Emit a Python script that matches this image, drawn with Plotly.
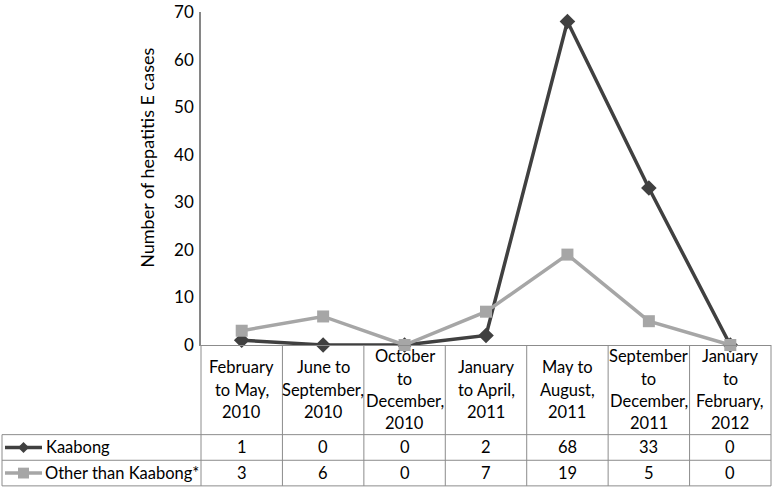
import plotly.graph_objects as go

# ---- data ----
categories = [
    "February<br>to May,<br>2010",
    "June to<br>September,<br>2010",
    "October<br>to<br>December,<br>2010",
    "January<br>to April,<br>2011",
    "May to<br>August,<br>2011",
    "September<br>to<br>December,<br>2011",
    "January<br>to<br>February,<br>2012",
]
kaabong = [1, 0, 0, 2, 68, 33, 0]
other = [3, 6, 0, 7, 19, 5, 0]
series_names = ["Kaabong", "Other than Kaabong*"]
y_ticks = [0, 10, 20, 30, 40, 50, 60, 70]
y_title = "Number of hepatitis E cases"

# ---- layout geometry ----
W, H = 772, 492
ML, MR, MT, MB = 201, 1, 7, 147
PW, PH = W - ML - MR, H - MT - MB

def px(x):
    return (x - ML) / PW

def py(y):
    return 1 - (y - MT) / PH

DARK = "#404040"
LIGHT = "#a6a6a6"
GRID = "#8c8c8c"
TXT = "#000000"
FONT = "Lato"
FS = 16.5
LINE_H = 22.7

xs = list(range(len(categories)))

fig = go.Figure()
fig.add_trace(go.Scatter(
    x=xs, y=kaabong, mode="lines+markers", name=series_names[0],
    line=dict(color=DARK, width=3.5),
    marker=dict(symbol="diamond", size=12, color=DARK),
    cliponaxis=False, showlegend=False,
))
fig.add_trace(go.Scatter(
    x=xs, y=other, mode="lines+markers", name=series_names[1],
    line=dict(color=LIGHT, width=3.5),
    marker=dict(symbol="square", size=12, color=LIGHT),
    cliponaxis=False, showlegend=False,
))

shapes = []
line_style = dict(color=GRID, width=1)
y_r1 = py(436)
y_r2 = py(462)
y_bot = py(488)
x_left = px(2)
for yy in (y_r1, y_r2, y_bot):
    shapes.append(dict(type="line", xref="paper", yref="paper", x0=x_left, x1=1,
                       y0=yy, y1=yy, line=line_style))
shapes.append(dict(type="line", xref="paper", yref="paper", x0=x_left, x1=x_left,
                   y0=y_r1, y1=y_bot, line=line_style))
shapes.append(dict(type="line", xref="paper", yref="paper", x0=0, x1=0,
                   y0=0, y1=y_bot, line=line_style))
shapes.append(dict(type="line", xref="paper", yref="paper", x0=1, x1=1,
                   y0=0, y1=y_bot, line=line_style))
for i in range(len(categories) - 1):
    shapes.append(dict(type="line", xref="x", yref="paper", x0=i + 0.5, x1=i + 0.5,
                       y0=0, y1=y_bot, line=line_style))

def key(yc_px, color, symbol):
    out = [dict(type="line", xref="paper", yref="paper", x0=px(5), x1=px(42),
                y0=py(yc_px), y1=py(yc_px), line=dict(color=color, width=3.5))]
    cx = 23.5
    d = 5.5
    if symbol == "diamond":
        path = (f"M {px(cx-d)} {py(yc_px)} L {px(cx)} {py(yc_px-d)} "
                f"L {px(cx+d)} {py(yc_px)} L {px(cx)} {py(yc_px+d)} Z")
        out.append(dict(type="path", xref="paper", yref="paper", path=path,
                        fillcolor=color, line=dict(color=color, width=0)))
    else:
        out.append(dict(type="rect", xref="paper", yref="paper",
                        x0=px(cx - d), x1=px(cx + d), y0=py(yc_px + d), y1=py(yc_px - d),
                        fillcolor=color, line=dict(color=color, width=0)))
    return out

shapes += key(449, DARK, "diamond")
shapes += key(475, LIGHT, "square")

annotations = []
text_font = dict(family=FONT, size=FS, color=TXT)
HEADER_MID = 390.5
for i, c in enumerate(categories):
    lines = c.split("<br>")
    n = len(lines)
    for j, ln in enumerate(lines):
        yc = HEADER_MID + (j - (n - 1) / 2) * LINE_H
        annotations.append(dict(x=i, y=py(yc), xref="x", yref="paper", text=ln,
                                showarrow=False, font=text_font,
                                xanchor="center", yanchor="middle"))
    annotations.append(dict(x=i, y=py(449), xref="x", yref="paper", text=str(kaabong[i]),
                            showarrow=False, font=text_font, xanchor="center", yanchor="middle"))
    annotations.append(dict(x=i, y=py(475), xref="x", yref="paper", text=str(other[i]),
                            showarrow=False, font=text_font, xanchor="center", yanchor="middle"))
annotations.append(dict(x=px(44), y=py(449), xref="paper", yref="paper", text=series_names[0],
                        showarrow=False, font=text_font, xanchor="left", yanchor="middle"))
annotations.append(dict(x=px(43), y=py(475), xref="paper", yref="paper", text=series_names[1],
                        showarrow=False, font=text_font, xanchor="left", yanchor="middle"))
annotations.append(dict(x=px(147), y=py(155), xref="paper", yref="paper", text=y_title,
                        showarrow=False, textangle=-90,
                        font=dict(family=FONT, size=18, color=TXT),
                        xanchor="center", yanchor="middle"))

fig.update_layout(
    width=W, height=H,
    margin=dict(l=ML, r=MR, t=MT, b=MB, pad=0),
    paper_bgcolor="white", plot_bgcolor="white",
    xaxis=dict(range=[-0.5, len(categories) - 0.5], showticklabels=False, ticks="",
               showgrid=False, zeroline=False, showline=True, linecolor=GRID, linewidth=1),
    yaxis=dict(range=[0, 70], tickvals=y_ticks, ticks="", showgrid=False, zeroline=False,
               showline=True, linecolor="#868686", linewidth=1.5,
               tickfont=dict(family=FONT, size=17, color=TXT), ticklabelstandoff=2,
               ticklabeloverflow="allow"),
    shapes=shapes,
    annotations=annotations,
    showlegend=False,
)

fig.write_html("out.html", config={"displayModeBar": False},
               post_script="document.body.style.margin='0px';document.body.style.padding='0px';")
